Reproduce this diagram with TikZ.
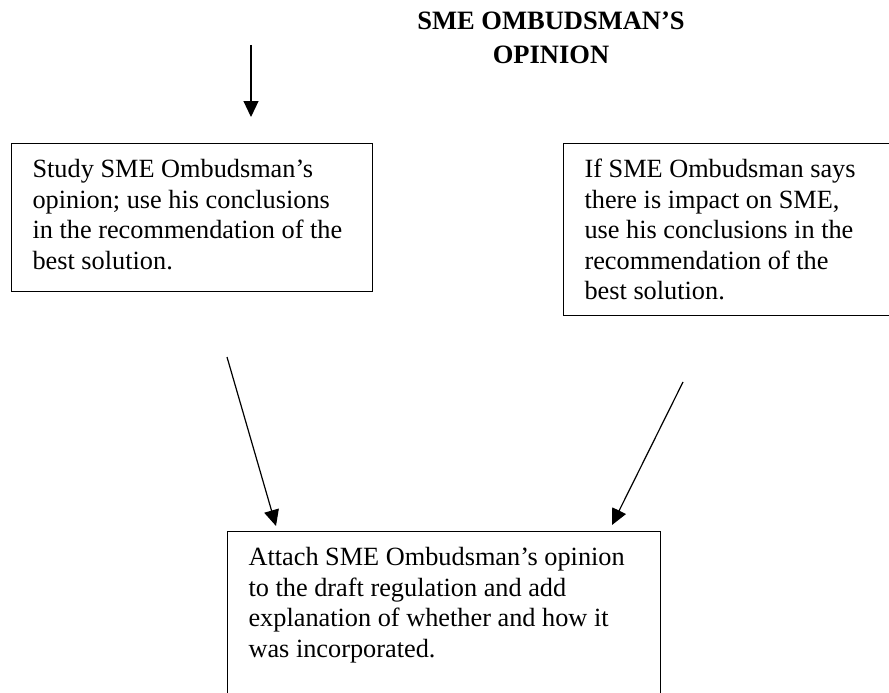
\documentclass[tikz,border=0pt]{standalone}
\usepackage{fontspec}
\setmainfont{Liberation Serif}
\usetikzlibrary{arrows.meta}
\tikzset{
  box/.style={draw=black, line width=1.1pt, anchor=north west, align=flush left, inner xsep=21pt, inner ysep=16pt, text height=18pt, font=\fontsize{26.3}{30.5}\selectfont},
  arr/.style={draw=black, line width=1.2pt, -{Triangle[length=16pt,width=15pt]}},
  head/.style={inner sep=0pt, align=center, font=\fontsize{26.5}{34}\selectfont\bfseries},
}

\begin{document}
\begin{tikzpicture}[x=1pt, y=-1pt]
  \fill[white] (0,0) rectangle (889,693);
  \path[use as bounding box, clip] (0,0) rectangle (889,693);
  \node[head, anchor=north] (opinion) at (551,12) {SME OMBUDSMAN’S\\OPINION};
  \node[box, text width=319pt, text depth=98pt] (study) at (11,143)
    {Study SME Ombudsman’s\\opinion; use his conclusions\\in the recommendation of the\\best solution.};
  \node[box, text width=300pt, text depth=122pt] (impact) at (563,143)
    {If SME Ombudsman says\\there is impact on SME,\\use his conclusions in the\\recommendation of the\\best solution.};
  \node[box, text width=391pt, text depth=160pt] (attach) at (227,531)
    {Attach SME Ombudsman’s opinion\\to the draft regulation and add\\explanation of whether and how it\\was incorporated.};
  % loose arrow ends
  \coordinate (d0) at (251,45);
  \coordinate (d1) at (251,117);
  \coordinate (l0) at (227,357);
  \coordinate (l1) at (276,526);
  \coordinate (r0) at (683,382);
  \coordinate (r1) at (612,525);
  \draw[arr] (d0) -- (d1);
  \draw[arr] (l0) -- (l1);
  \draw[arr] (r0) -- (r1);
\end{tikzpicture}
\end{document}
